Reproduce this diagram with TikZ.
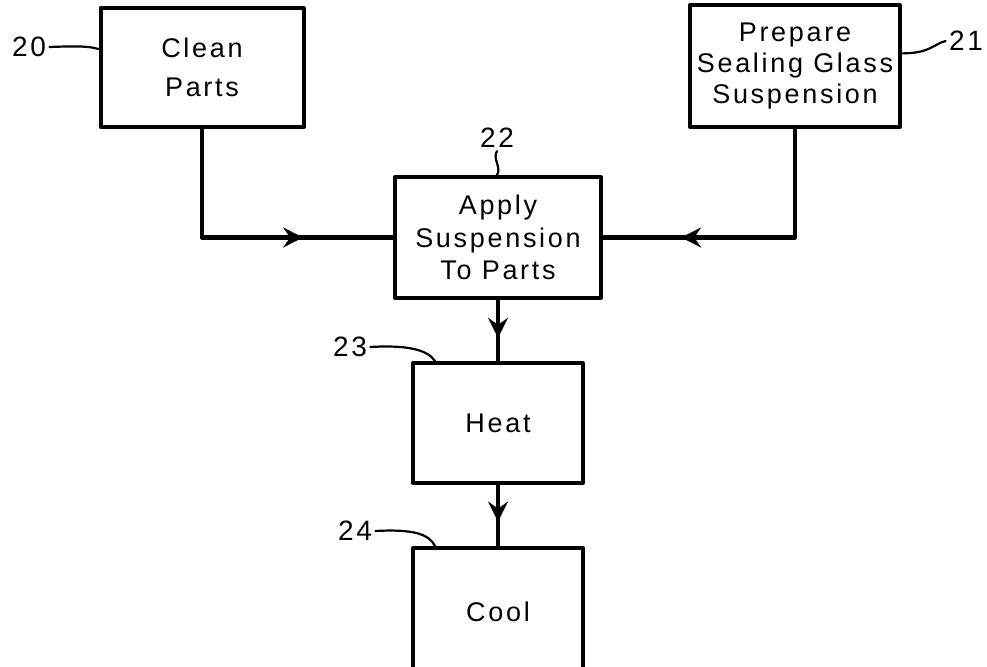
\documentclass[tikz,border=0pt]{standalone}
\usepackage{fontspec}
\setmainfont{Liberation Sans}[LetterSpace=10]
\usetikzlibrary{arrows.meta,decorations.markings,calc}

\begin{document}
\begin{tikzpicture}[x=0.5pt, y=-0.5pt, line join=round, line cap=round,
  stepbox/.style={draw, line width=2pt, align=center, inner sep=0pt, font=\fontsize{13.5}{16.2}\selectfont},
  flow/.style={line width=2.4pt},
  flowmark/.style={postaction={decorate}, decoration={markings, mark=at position #1 with {\arrow{Stealth[length=10pt,width=10pt,inset=3.5pt]}}}},
  refnum/.style={inner sep=1.5pt, font=\fontsize{14}{16}\selectfont},
  leader/.style={line width=1.1pt}]
\useasboundingbox (0,0) rectangle (987,667);
\node[stepbox, minimum width=101.5pt, minimum height=59.5pt, font=\fontsize{13.5}{19.5}\selectfont] (clean) at (202,67.5) {Clean\\Parts};
\node[stepbox, minimum width=105pt, minimum height=61pt, font=\fontsize{13.5}{15.6}\selectfont] (prep) at (795,66) {Prepare\\Sealing Glass\\Suspension};
\node[stepbox, minimum width=103pt, minimum height=60.5pt] (apply) at (498,237.5) {Apply\\Suspension\\To Parts};
\node[stepbox, minimum width=85pt, minimum height=60pt] (heat) at (498,423) {Heat};
\node[stepbox, minimum width=85pt, minimum height=63.5pt] (cool) at (498,611.5) {Cool};
\node[refnum] (l20) at (29,47) {20};
\node[refnum] (l21) at (966,41) {21};
\node[refnum] (l22) at (497,138) {22};
\node[refnum] (l23) at (350,347) {23};
\node[refnum] (l24) at (355,531) {24};
\draw[flow, flowmark=0.7] (clean) |- (apply);
\draw[flow, flowmark=0.74] (prep) |- (apply);
\draw[flow, flowmark=0.62] (apply) -- (heat);
\draw[flow, flowmark=0.6] (heat) -- (cool);
\draw[leader] (l20.east) .. controls +(28,-1) and +(-10,-3) .. ($(clean.north west)!0.35!(clean.south west)$);
\draw[leader] ($(prep.north east)!0.4!(prep.south east)$) .. controls +(28,0) and +(-12,3) .. (l21.west);
\draw[leader] (l22.south) .. controls +(-5,7) and +(5,-7) .. (l22.south |- apply.north);
\draw[leader] (l23.east) .. controls +(35,-2) and +(-8,-12) .. ($(heat.north west)+(24,0)$);
\draw[leader] (l24.east) .. controls +(38,-2) and +(-6,-12) .. ($(cool.north west)+(24,0)$);
\end{tikzpicture}
\end{document}
